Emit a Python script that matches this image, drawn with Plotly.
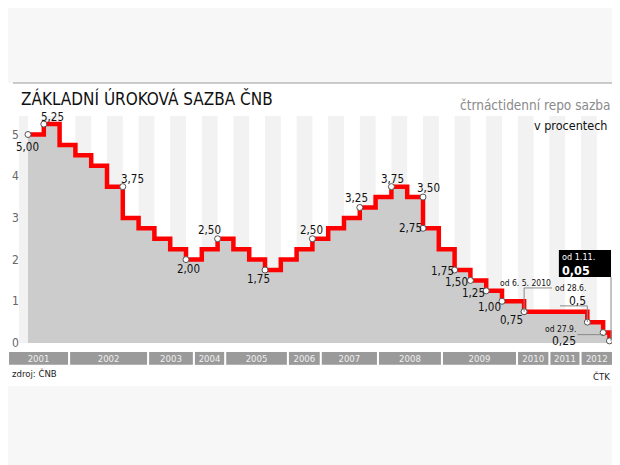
import plotly.graph_objects as go

# --- data ----------------------------------------------------------------
# x is the chart's own (step) axis: one rate change ~ one unit, not real time
rate_x = [0, 1, 2, 3, 4, 5, 6, 7, 8, 9, 10, 11, 12, 13, 14, 15, 16, 17, 18, 19,
          20, 21, 22, 23, 24, 25, 26, 27, 28, 29, 30, 31.4, 35.4, 36.4, 36.8]
rates = [5.00, 5.25, 4.75, 4.50, 4.25, 3.75, 3.00, 2.75, 2.50, 2.25,
         2.00, 2.25, 2.50, 2.25, 2.00, 1.75, 2.00, 2.25, 2.50, 2.75,
         3.00, 3.25, 3.50, 3.75, 3.50, 2.75, 2.25, 1.75, 1.50, 1.25,
         1.00, 0.75, 0.50, 0.25, 0.05]
x_end = 36.96

# labelled points
pt_x = [0, 1, 6, 10, 12, 15, 18, 21, 23, 25, 25, 27, 28, 29, 30, 31.4]
pt_y = [5.00, 5.25, 3.75, 2.00, 2.50, 1.75, 2.50, 3.25, 3.75, 3.50,
        2.75, 1.75, 1.50, 1.25, 1.00, 0.75]

# callouts for the latest changes
call_x = [31.4, 35.4, 36.4, 36.8]
call_y = [0.75, 0.50, 0.25, 0.05]
call_date = ['od 6. 5. 2010', 'od 28.6.', 'od 27.9.', 'od 1.11.']
call_val = ['', '0,5', '0,25', '0,05']

years = ['2001', '2002', '2003', '2004', '2005', '2006',
         '2007', '2008', '2009', '2010', '2011', '2012']
year_edges = [-1.2, 2.6, 7.6, 10.5, 12.48, 16.45, 18.53, 22.15,
              26.2, 30.95, 33.0, 34.97, 36.96]

yticks = [0, 1, 2, 3, 4, 5]

# --- styling ---------------------------------------------------------------
# the page puts the figure 8px in from the top-left corner
OX, OY = 8, 8
W, H = 620 - OX, 465 - OY
FONT = 'DejaVu Sans Condensed, DejaVu Sans'
RED = '#ff0000'


def px(x):
    return (x - OX) / W


def py(y):
    return 1 - (y - OY) / H


# pixel offsets of each point label (dx right, dy down)
lab_dx = [-1, 9, 10, 2, -8, -7, -1, -3, 1, 5, -13, -12, -14, -13, -13, -13]
lab_dy = [12, -7, -8, 9, -9, 9, -9, -9, -8, -9, 0, 1, 2, 2, 6, 8]

fig = go.Figure()

fig.add_trace(go.Scatter(
    x=rate_x + [x_end], y=rates + [rates[-1]],
    mode='lines', line=dict(color=RED, width=4.5, shape='hv'),
    fill='tozeroy', fillcolor='#cccccc', hoverinfo='skip'))

fig.add_trace(go.Scatter(
    x=pt_x + call_x, y=pt_y + call_y, mode='markers',
    marker=dict(size=6, color='white', line=dict(color='#555555', width=1)),
    hoverinfo='skip'))

gap = 0.065
starts = [year_edges[i] + (gap if i > 0 else 0) for i in range(len(years))]
widths = [year_edges[i + 1] - starts[i] - (gap if i < len(years) - 1 else 0)
          for i in range(len(years))]
fig.add_trace(go.Bar(
    y=[-0.37] * len(years), x=widths, base=starts, orientation='h', width=0.31,
    marker=dict(color='#9a9a9a', line=dict(width=0)),
    text=years, textposition='inside', insidetextanchor='middle', textangle=0,
    constraintext='none', textfont=dict(family=FONT, size=9.5, color='#f0f0f0'),
    hoverinfo='skip'))

shapes = []
# white panel + top rule
shapes.append(dict(type='rect', xref='paper', yref='paper', x0=px(5), x1=px(615),
                   y0=py(386), y1=py(83), fillcolor='white', line=dict(width=0),
                   layer='below'))
shapes.append(dict(type='line', xref='paper', yref='paper', x0=px(13), x1=px(615),
                   y0=py(83), y1=py(83), line=dict(color='#999999', width=1)))
# background stripes
for k in range(-1, 37, 2):
    shapes.append(dict(type='rect', xref='x', yref='y', x0=max(k, -0.57), x1=k + 1,
                       y0=0, y1=5.444, fillcolor='#f2f2f2', line=dict(width=0),
                       layer='below'))

# callout lines
cl = dict(color='#888888', width=1)
shapes.append(dict(type='path', xref='x', yref='y', line=cl,
                   path=f'M{call_x[0]},{call_y[0]} L{call_x[0]},1.32 L33.16,1.32'))
shapes.append(dict(type='path', xref='x', yref='y', line=cl,
                   path=f'M33.67,0.89 L{call_x[1]},0.89 L{call_x[1]},{call_y[1]}'))
shapes.append(dict(type='path', xref='x', yref='y', line=cl,
                   path=f'M34.78,0.2 L{call_x[2]},0.2'))
shapes.append(dict(type='rect', xref='x', yref='y', x0=33.6, x1=36.9, y0=1.58, y1=2.23,
                   fillcolor='black', line=dict(width=0)))
shapes.append(dict(type='line', xref='x', yref='y', x0=36.9, x1=36.9, y0=1.58,
                   y1=call_y[3], line=cl))

ann = []
for x, y, dx, dy in zip(pt_x, pt_y, lab_dx, lab_dy):
    ann.append(dict(x=x, y=y, xref='x', yref='y', xshift=dx, yshift=-dy,
                    text=f'{y:.2f}'.replace('.', ','), showarrow=False,
                    font=dict(family=FONT, size=11.5, color='#111111')))


def note(x, y, text, size, xa, color='#111111'):
    return dict(x=x, y=y, xref='x', yref='y', xanchor=xa, yanchor='middle', text=text,
                showarrow=False, borderpad=0,
                font=dict(family=FONT, size=size, color=color))


# callout texts
ann.append(note(33.16, 1.43, call_date[0], 8.5, 'right'))
ann.append(note(call_x[1], 1.33, call_date[1], 8.5, 'right'))
ann.append(note(call_x[1], 1.01, call_val[1], 12, 'right'))
ann.append(note(34.72, 0.34, call_date[2], 8.5, 'right'))
ann.append(note(34.72, 0.05, call_val[2], 12, 'right'))
ann.append(note(33.72, 2.07, call_date[3], 9, 'left', color='white'))
ann.append(note(33.72, 1.75, '<b>' + call_val[3] + '</b>', 12.5, 'left', color='white'))

# headings and footers
ann.append(dict(x=px(19), y=py(98), xref='paper', yref='paper', xanchor='left',
                yanchor='middle', text='ZÁKLADNÍ ÚROKOVÁ SAZBA ČNB', showarrow=False,
                font=dict(family=FONT, size=17, color='#111111')))
ann.append(dict(x=px(612), y=py(105), xref='paper', yref='paper', xanchor='right',
                yanchor='middle', text='čtrnáctidenní repo sazba', showarrow=False,
                font=dict(family=FONT, size=13.5, color='#8a8a8a')))
ann.append(dict(x=px(609), y=py(125), xref='paper', yref='paper', xanchor='right',
                yanchor='middle', text='v procentech', showarrow=False,
                font=dict(family=FONT, size=12.5, color='#111111')))
ann.append(dict(x=px(10), y=py(373), xref='paper', yref='paper', xanchor='left',
                yanchor='middle', text='zdroj: ČNB', showarrow=False,
                font=dict(family=FONT, size=9.5, color='#222222')))
ann.append(dict(x=px(612), y=py(376), xref='paper', yref='paper', xanchor='right',
                yanchor='middle', text='ČTK', showarrow=False,
                font=dict(family=FONT, size=9.5, color='#222222')))

fig.update_layout(
    width=W, height=H, autosize=False,
    margin=dict(l=0, r=0, t=0, b=0),
    paper_bgcolor='#f7f7f7', plot_bgcolor='white',
    showlegend=False, shapes=shapes, annotations=ann,
    xaxis=dict(domain=[px(9), px(613)], range=[-1.2025, 37.025], visible=False,
               fixedrange=True),
    yaxis=dict(domain=[py(366), py(116)], range=[-0.552, 5.444],
               tickvals=yticks, ticklabelposition='inside', ticks='',
               showgrid=False, zeroline=False, showline=False, fixedrange=True,
               tickfont=dict(family=FONT, size=12, color='#666666')),
)

fig.write_html('out.html')
